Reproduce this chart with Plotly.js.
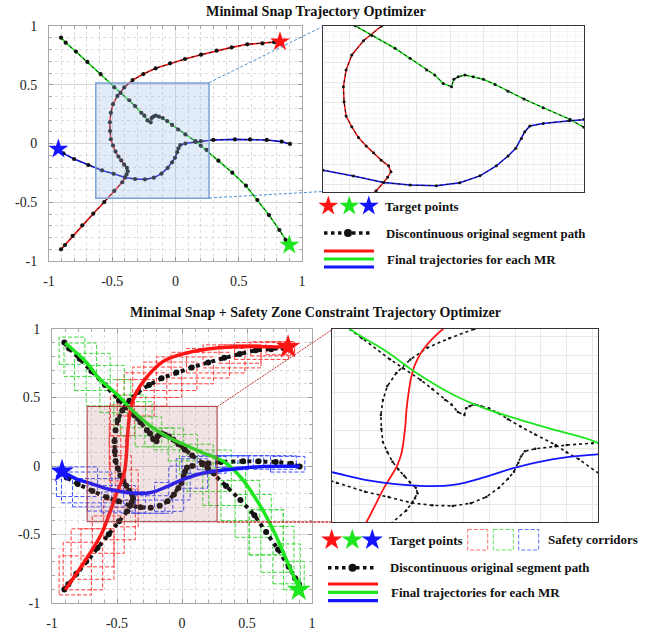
<!DOCTYPE html>
<html>
<head>
<meta charset="utf-8">
<script src="https://cdn.plot.ly/plotly-3.0.1.min.js"></script>
<style>html,body{margin:0;padding:0;background:#fff;}#chart{width:657px;height:633px;}</style>
</head>
<body>
<div id="chart"></div>
<script>
// ---------------- DATA ----------------
const titleTop = 'Minimal Snap Trajectory Optimizer';
const titleBottom = 'Minimal Snap + Safety Zone Constraint Trajectory Optimizer';
const legendTargets = 'Target points';
const legendCorridors = 'Safety corridors';
const legendPath = 'Discontinuous original segment path';
const legendTraj = 'Final trajectories for each MR';

const tickVals = [-1, -0.5, 0, 0.5, 1];
const tickText = ['-1', '-0.5', '0', '0.5', '1'];

// Discontinuous original segment paths (shared by both panels)
const redPathX = [-0.905, -0.874, -0.813, -0.737, -0.650, -0.563, -0.484, -0.421, -0.399, -0.387, -0.377, -0.384, -0.406, -0.429, -0.451, -0.474, -0.494, -0.511, -0.517, -0.519, -0.511, -0.494, -0.459, -0.405, -0.339, -0.254, -0.157, -0.043, 0.075, 0.202, 0.325, 0.444, 0.568, 0.686, 0.780, 0.826];
const redPathY = [-0.901, -0.864, -0.787, -0.696, -0.597, -0.498, -0.404, -0.330, -0.289, -0.264, -0.237, -0.208, -0.180, -0.144, -0.111, -0.069, -0.017, 0.036, 0.106, 0.180, 0.261, 0.335, 0.405, 0.477, 0.540, 0.591, 0.640, 0.682, 0.719, 0.756, 0.790, 0.818, 0.844, 0.852, 0.862, 0.867];

const greenPathX = [-0.905, -0.868, -0.787, -0.697, -0.592, -0.484, -0.434, -0.365, -0.320, -0.270, -0.246, -0.221, -0.196, -0.189, -0.176, -0.156, -0.131, -0.101, -0.066, -0.027, 0.021, 0.078, 0.158, 0.200, 0.246, 0.339, 0.449, 0.557, 0.647, 0.739, 0.821, 0.870, 0.900];
const greenPathY = [0.901, 0.858, 0.782, 0.694, 0.591, 0.478, 0.430, 0.368, 0.319, 0.261, 0.237, 0.196, 0.180, 0.216, 0.228, 0.237, 0.228, 0.216, 0.191, 0.158, 0.119, 0.077, 0.020, -0.019, -0.055, -0.146, -0.248, -0.359, -0.481, -0.609, -0.736, -0.820, -0.864];

const bluePathX = [-0.926, -0.887, -0.802, -0.689, -0.580, -0.489, -0.399, -0.320, -0.241, -0.171, -0.111, -0.062, -0.027, -0.004, 0.013, 0.023, 0.038, 0.078, 0.157, 0.200, 0.299, 0.470, 0.589, 0.721, 0.839, 0.905];
const bluePathY = [-0.047, -0.084, -0.132, -0.183, -0.229, -0.258, -0.289, -0.302, -0.305, -0.291, -0.257, -0.208, -0.160, -0.122, -0.074, -0.041, -0.013, 0.000, 0.013, 0.020, 0.030, 0.035, 0.035, 0.030, 0.016, -0.004];

// Final smooth trajectories with safety-zone constraint (bottom panel)
const redTrajX = [-0.898, -0.757, -0.629, -0.575, -0.504, -0.458, -0.439, -0.426, -0.417, -0.394, -0.355, -0.270, -0.143, 0.036, 0.266, 0.522, 0.752, 0.816];
const redTrajY = [-0.903, -0.708, -0.513, -0.392, -0.202, -0.095, -0.023, 0.101, 0.244, 0.422, 0.530, 0.650, 0.764, 0.825, 0.861, 0.873, 0.869, 0.869];
const greenTrajX = [-0.898, -0.731, -0.639, -0.497, -0.381, -0.239, -0.110, 0.020, 0.149, 0.317, 0.445, 0.573, 0.701, 0.803, 0.893];
const greenTrajY = [0.898, 0.752, 0.640, 0.520, 0.405, 0.289, 0.212, 0.155, 0.102, 0.034, -0.075, -0.246, -0.465, -0.684, -0.878];
const blueTrajX = [-0.923, -0.800, -0.708, -0.562, -0.368, -0.239, -0.110, -0.006, 0.149, 0.317, 0.598, 0.905];
const blueTrajY = [-0.039, -0.100, -0.125, -0.170, -0.198, -0.193, -0.148, -0.103, -0.055, -0.030, -0.005, -0.002];

// Target points (red, green, blue)
const targetTopX = [0.826, 0.900, -0.926];
const targetTopY = [0.867, -0.864, -0.047];
const targetBotX = [0.816, 0.898, -0.923];
const targetBotY = [0.869, -0.903, -0.039];

// Zoomed regions
const zoomTopX = [-0.63, 0.265], zoomTopY = [-0.465, 0.515];
const zoomBotX = [-0.73, 0.27], zoomBotY = [-0.407, 0.435];
const insetTopX = [-0.58, 0.20], insetTopY = [-0.336, 0.477];
const insetBotX = [-0.708, 0.321], insetBotY = [-0.391, 0.64];

// ---------------- STYLE / LAYOUT ----------------
const W = 657, H = 633;
const RED = '#ff1414', GREEN = '#1ee61e', BLUE = '#1414ff';
const fx = p => p / W, fy = p => 1 - p / H;
const SERIF = 'Liberation Serif, Times New Roman, serif';

function corridors(xs, ys, spacing, win, pad) {
  const s = [0];
  for (let i = 1; i < xs.length; i++) s.push(s[i-1] + Math.hypot(xs[i]-xs[i-1], ys[i]-ys[i-1]));
  const total = s[s.length-1];
  const out = [];
  for (let a = 0; a < total - 0.02; a += spacing) {
    const b = a + win;
    let i0 = 0; while (i0 + 1 < xs.length && s[i0+1] <= a) i0++;
    let i1 = i0; while (i1 + 1 < xs.length && s[i1] < b) i1++;
    const sx = xs.slice(i0, i1+1), sy = ys.slice(i0, i1+1);
    out.push([Math.min(...sx)-pad, Math.max(...sx)+pad, Math.min(...sy)-pad, Math.max(...sy)+pad]);
  }
  return out;
}

const traces = [];
function pathTraces(xa, ya, px, py, col, lw, dotW, mk) {
  traces.push({x: px, y: py, xaxis: xa, yaxis: ya, mode: 'lines', line: {color: col, width: lw}, hoverinfo: 'skip'});
  traces.push({x: px, y: py, xaxis: xa, yaxis: ya, mode: 'lines+markers', line: {color: '#111', width: dotW, dash: 'dot'}, marker: {color: '#111', size: mk, opacity: 1}, hoverinfo: 'skip'});
}
// Top panel main + inset
[['x','y',4.2,1.6,1],['x2','y2',3,1.5,1]].forEach(([xa,ya,mk,lw,dw]) => {
  pathTraces(xa, ya, redPathX, redPathY, RED, lw, dw, mk);
  pathTraces(xa, ya, greenPathX, greenPathY, GREEN, lw, dw, mk);
  pathTraces(xa, ya, bluePathX, bluePathY, BLUE, lw, dw, mk);
});
traces.push({x: targetTopX, y: targetTopY, xaxis: 'x', yaxis: 'y', mode: 'markers', marker: {symbol: 'star', size: 15, opacity: 1, color: [RED, GREEN, BLUE], line: {width: 0}}, hoverinfo: 'skip'});

// Bottom panel: black dotted paths then smooth trajectories
function blackPath(xa, ya, px, py, dw, mk) {
  traces.push({x: px, y: py, xaxis: xa, yaxis: ya, mode: 'lines+markers', line: {color: '#111', width: dw, dash: 'dot'}, marker: {color: '#111', size: mk, opacity: 1}, hoverinfo: 'skip'});
}
function smooth(xa, ya, px, py, col, lw) {
  traces.push({x: px, y: py, xaxis: xa, yaxis: ya, mode: 'lines', line: {color: col, width: lw, shape: 'spline', smoothing: 1}, hoverinfo: 'skip'});
}
[['x3','y3',4,6,3.5],['x4','y4',1.6,2.5,1.8]].forEach(([xa,ya,dw,mk,lw]) => {
  blackPath(xa, ya, redPathX, redPathY, dw, mk);
  blackPath(xa, ya, greenPathX, greenPathY, dw, mk);
  blackPath(xa, ya, bluePathX, bluePathY, dw, mk);
  smooth(xa, ya, redTrajX, redTrajY, RED, lw);
  smooth(xa, ya, greenTrajX, greenTrajY, GREEN, lw);
  smooth(xa, ya, blueTrajX, blueTrajY, BLUE, lw);
});
traces.push({x: targetBotX, y: targetBotY, xaxis: 'x3', yaxis: 'y3', mode: 'markers', marker: {symbol: 'star', size: 18, opacity: 1, color: [RED, GREEN, BLUE], line: {width: 0}}, hoverinfo: 'skip'});

// Legend glyphs on a full-page pixel overlay (x5/y5)
traces.push({x: [328.3, 349.3, 368.8, 331.7, 352.3, 372.3], y: [206, 206, 206, 540, 540, 540], xaxis: 'x5', yaxis: 'y5', mode: 'markers', cliponaxis: false,
  marker: {symbol: 'star', size: [15,15,15,16,16,16], opacity: 1, color: [RED, GREEN, BLUE, RED, GREEN, BLUE], line: {width: 0}}, hoverinfo: 'skip'});
[[324, 372, 233], [328, 377, 567.7]].forEach(([a, b, y]) => {
  traces.push({x: [a, b], y: [y, y], xaxis: 'x5', yaxis: 'y5', mode: 'lines', cliponaxis: false, line: {color: '#111', width: 3.5, dash: 'dot'}, hoverinfo: 'skip'});
  traces.push({x: [(a+b)/2], y: [y], xaxis: 'x5', yaxis: 'y5', mode: 'markers', cliponaxis: false, marker: {color: '#111', size: 8, opacity: 1}, hoverinfo: 'skip'});
});

const shapes = [];
// safety corridors
[[redPathX, redPathY, '#ff3c3c'], [greenPathX, greenPathY, '#3cdc3c'], [bluePathX, bluePathY, '#3c50ff']].forEach(([px, py, col]) => {
  corridors(px, py, 0.12, 0.16, 0.04).forEach(([x0, x1, y0, y1]) => {
    shapes.push({type: 'rect', xref: 'x3', yref: 'y3', x0, x1, y0, y1, layer: 'between', line: {color: col, width: 1, dash: '4px,2px'}});
  });
});
// zoom rectangles
shapes.push({type: 'rect', xref: 'x', yref: 'y', x0: zoomTopX[0], x1: zoomTopX[1], y0: zoomTopY[0], y1: zoomTopY[1], layer: 'above',
  fillcolor: 'rgba(160,190,232,0.3)', line: {color: '#7ba3d4', width: 1.5}});
shapes.push({type: 'rect', xref: 'x3', yref: 'y3', x0: zoomBotX[0], x1: zoomBotX[1], y0: zoomBotY[0], y1: zoomBotY[1], layer: 'above',
  fillcolor: 'rgba(175,100,100,0.18)', line: {color: '#a83030', width: 1}});
// connectors (pixel overlay)
const pxLine = (x0, y0, x1, y1, color, width, dash) => shapes.push({type: 'line', xref: 'x5', yref: 'y5', x0, y0, x1, y1, layer: 'above', line: {color, width, dash}});
pxLine(209, 82.7, 322.7, 26.5, '#4a8fd6', 1, '3px,2px');
pxLine(209, 198, 322.7, 191.5, '#4a8fd6', 1, '3px,2px');
pxLine(217.3, 406.7, 332.3, 329.5, '#c03030', 1, '2px,1px');
pxLine(217.3, 522, 332.3, 522, '#c03030', 1.3, '3px,1px');
// legend colored lines
[[324, 374, [251, 259, 267]], [328, 378, [584, 592.3, 600.7]]].forEach(([a, b, ys]) => {
  [RED, GREEN, BLUE].forEach((c, i) => pxLine(a, ys[i], b, ys[i], c, 3.2, 'solid'));
});
// legend corridor boxes
[[467.7, 487.7, '#ff7070'], [493.3, 513.3, '#60e060'], [518.7, 538.7, '#6070ff']].forEach(([a, b, c]) => {
  shapes.push({type: 'rect', xref: 'x5', yref: 'y5', x0: a, x1: b, y0: 529.5, y1: 550, layer: 'above', line: {color: c, width: 1, dash: '4px,2px'}});
});

const txt = (text, x, y, size, anchor) => ({text: '<b>' + text + '</b>', x, y, xref: 'x5', yref: 'y5', xanchor: anchor || 'left', yanchor: 'middle', showarrow: false,
  font: {family: SERIF, size: size, color: '#111'}});
const annotations = [
  txt(titleTop, 315.8, 11, 14.2, 'center'),
  txt(titleBottom, 315, 312, 14, 'center'),
  txt(legendTargets, 382.5, 206.5, 13),
  txt(legendPath, 383.5, 233.5, 12.8),
  txt(legendTraj, 384.5, 259.5, 13),
  txt(legendTargets, 386.5, 540, 13),
  txt(legendCorridors, 545.5, 539.5, 13),
  txt(legendPath, 388, 567.5, 12.8),
  txt(legendTraj, 388.5, 592.5, 13)
];

const mainAxis = (dom, anchor, isY) => ({
  domain: dom, anchor, range: [-1, 1], tickmode: 'array', tickvals: tickVals, ticktext: tickText,
  ticks: 'inside', ticklen: 4, tickcolor: '#999', showline: true, mirror: 'ticks', linecolor: '#a8a8a8', linewidth: 1,
  showgrid: true, gridcolor: '#d6d6d6', gridwidth: 1, zeroline: false,
  minor: {tickmode: 'linear', tick0: 0, dtick: 0.1, ticks: 'inside', ticklen: 3, tickcolor: '#aaa', showgrid: true, gridcolor: '#dcdcdc', griddash: 'dot', gridwidth: 1},
  tickfont: {family: SERIF, size: 14, color: '#222'}, ticklabelstandoff: isY ? 8 : 7, fixedrange: true
});
const insetAxis = (dom, anchor, range, minorDt) => {
  const ax = {
    domain: dom, anchor, range, showticklabels: false, ticks: '', showline: true, mirror: true, linecolor: '#333', linewidth: 1.2,
    showgrid: true, dtick: 0.1, tick0: 0, gridcolor: '#e8e8e8', gridwidth: 1, zeroline: false, fixedrange: true
  };
  if (minorDt) ax.minor = {dtick: minorDt, tick0: 0, showgrid: true, gridcolor: '#f6f6f6', gridwidth: 1};
  return ax;
};

const layout = {
  width: W, height: H, margin: {l: 0, r: 0, t: 0, b: 0}, paper_bgcolor: '#fff', plot_bgcolor: 'rgba(0,0,0,0)', showlegend: false,
  xaxis: mainAxis([fx(49), fx(302)], 'y', false),
  yaxis: mainAxis([fy(261), fy(26)], 'x', true),
  xaxis2: insetAxis([fx(323), fx(584)], 'y2', insetTopX, 0.025),
  yaxis2: insetAxis([fy(192), fy(26)], 'x2', insetTopY, 0.025),
  xaxis3: mainAxis([fx(52), fx(312)], 'y3', false),
  yaxis3: mainAxis([fy(603), fy(329)], 'x3', true),
  xaxis4: insetAxis([fx(332), fx(598)], 'y4', insetBotX, 0),
  yaxis4: insetAxis([fy(522), fy(329)], 'x4', insetBotY, 0),
  xaxis5: {domain: [0, 1], anchor: 'y5', range: [0, W], visible: false, fixedrange: true},
  yaxis5: {domain: [0, 1], anchor: 'x5', range: [H, 0], visible: false, fixedrange: true},
  shapes, annotations
};

Plotly.newPlot('chart', traces, layout, {staticPlot: true});
</script>
</body>
</html>
